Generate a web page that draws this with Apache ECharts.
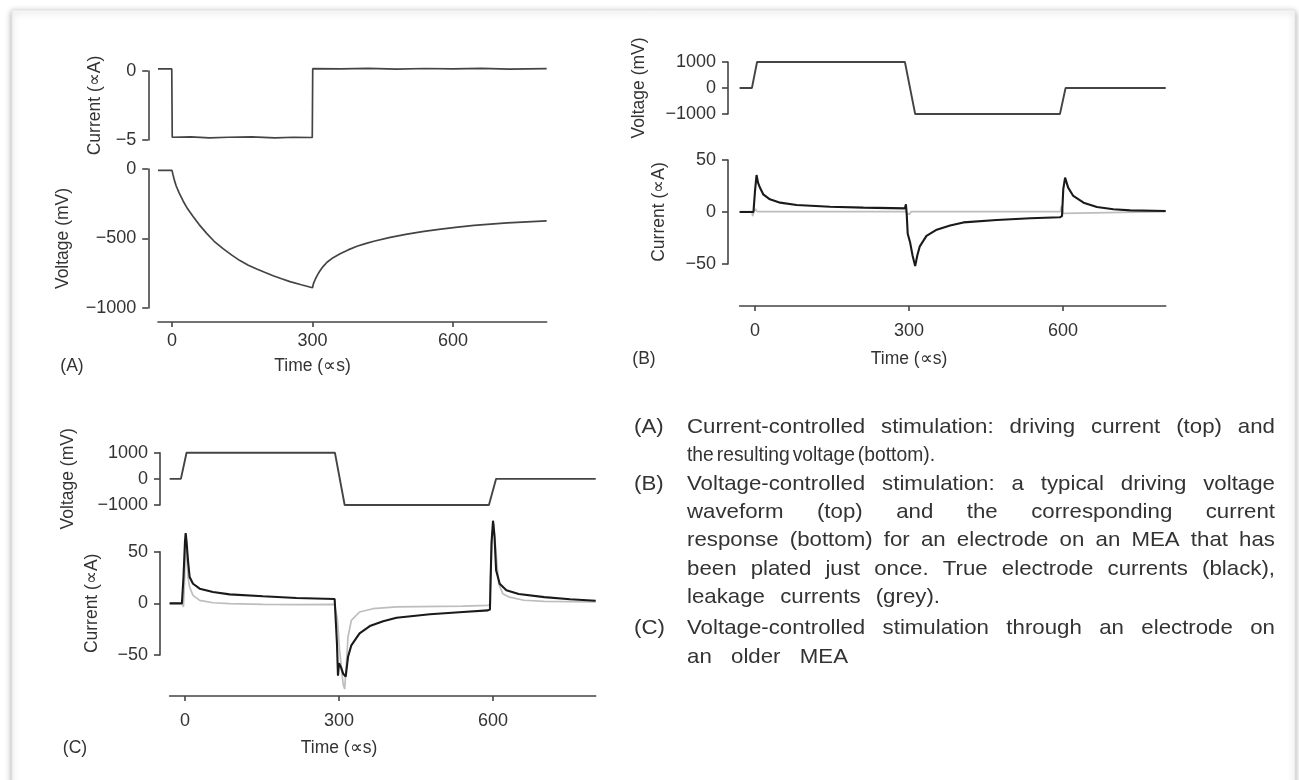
<!DOCTYPE html>
<html><head><meta charset="utf-8">
<script src="https://cdn.jsdelivr.net/npm/echarts@6/dist/echarts.min.js"></script>
<style>html,body{margin:0;padding:0;background:#fff}#c{width:1299px;height:780px}</style>
</head><body><div id="c"></div><script>
// ---------------- data ----------------
const xTicks = [0, 300, 600];
const aCurrentTicks = [-5, 0];
const aVoltageTicks = [-1000, -500, 0];
const bcVoltageTicks = [-1000, 0, 1000];
const bcCurrentTicks = [-50, 0, 50];

// Panel A: driving current (uA) and resulting voltage (mV)
const aCurrent = [[-30,0.15],[-0.5,0.15],[0.5,-4.8],[40,-4.78],[80,-4.84],[120,-4.8],[170,-4.78],[220,-4.84],[260,-4.8],[299.5,-4.82],
  [300.5,0.17],[360,0.15],[420,0.19],[480,0.14],[540,0.18],[600,0.15],[660,0.19],[720,0.14],[800,0.17]];
const aVoltage = [[-30,-10],[0,-10],[2,-40],[5,-80],[9,-122],[15,-170],[24,-232],[33,-285],[45,-341],[58,-400],[74,-463],
  [90,-520],[109,-573],[127,-618],[145,-659],[163,-692],[181,-720],[199,-745],[216,-768],[234,-790],[252,-810],[276,-833],[300,-854],
  [302,-825],[306,-793],[311,-760],[316,-732],[323,-700],[331,-671],[344,-638],[359,-610],[376,-582],[395,-556],[413,-537],[431,-520],
  [466,-492],[502,-468],[538,-449],[574,-432],[610,-418],[645,-405],[680,-396],[716,-388],[758,-380],[800,-373]];

// Panel B: driving voltage (mV), electrode current (black) and leakage (grey), uA
const bVoltage = [[-30,0],[-6,0],[4,1000],[292,1000],[312,-1000],[594,-1000],[605,0],[800,0]];
const bTrue = [[-30,0],[-3,0],[0,20],[3,35.6],[6,28],[10,23],[16,17],[29,12.2],[49,9],[81,6.7],[146,5.1],[211,4.2],[292,3.5],
  [294,7.4],[295.5,-2],[297.5,-21],[302,-29],[307,-42],[312,-52],[316,-42],[321,-33],[334,-23],[354,-17],[380,-13],[406,-10],
  [471,-7.7],[536,-6],[594,-5],[598,-4],[600.5,22],[604,33],[610,23.4],[620,15.4],[640,9],[666,4.8],[698,2.6],[731,1.6],[800,1]];
const bLeak = [[-30,0.3],[-6,0.3],[-4.5,-4],[-2,0.5],[1,3],[4,0.3],[294,0.3],[297,-2],[301,-2],[304,0.3],[316,0.5],[318,2],[320,0.3],
  [595,0.3],[597,6],[600.5,-1.3],[603,0.5],[800,0.3]];

// Panel C: older MEA
const cVoltage = [[-30,0],[-8,0],[3,1000],[292,1000],[311,-1000],[592,-1000],[606,0],[800,0]];
const cTrue = [[-30,0],[-6,0],[-3,25],[0,60],[1.3,68],[3,60],[5.8,41.6],[9,25.5],[15.6,19],[28.6,14.2],[54.5,11],[87,8.7],[152,6.8],
  [217,5.2],[291.5,4.2],[295,3],[296,-39],[298,-70],[300,-58],[304,-62],[308,-68],[313,-71],[317.5,-52],[324,-40.6],[340,-29],
  [360,-22],[386,-17.4],[412,-14],[477,-10.6],[541.5,-8.4],[590,-6.8],[594,-6],[597,58],[600,80],[603,64],[606,32],[613,19],
  [626,12.6],[650,9],[700,6],[750,4],[800,2.5]];
const cLeak = [[-30,0],[-6,0],[-3,-3.5],[-1,20],[1,58],[2,64],[4,40],[6,25],[9,15.8],[15.6,7.7],[28.6,2.9],[54.5,0.6],[87,-0.3],
  [152,-1],[217,-1.3],[291.5,-1],[295,-1],[297,-16],[301,-45],[308,-78],[311,-83],[314,-62],[317.5,-32.6],[324,-16.5],[340,-8.4],
  [366,-5.2],[412,-3.5],[541,-2.6],[590,-1.9],[594,-1.5],[595,25],[599,70],[601.5,77],[606,48],[611,19],[619,9.4],[632,6],
  [660,3],[700,2],[800,1.5]];

const captionLines = [
  {label:'(A)', text:'Current-controlled stimulation: driving current (top) and', w:588},
  {text:'the resulting voltage (bottom).', w:248},
  {label:'(B)', text:'Voltage-controlled stimulation: a typical driving voltage', w:588},
  {text:'waveform (top) and the corresponding current', w:588},
  {text:'response (bottom) for an electrode on an MEA that has', w:588},
  {text:'been plated just once. True electrode currents (black),', w:588},
  {text:'leakage currents (grey).', w:253},
  {label:'(C)', text:'Voltage-controlled stimulation through an electrode on', w:588},
  {text:'an older MEA', w:161}
];
const captionY = [427, 455.5, 484, 512, 540.5, 569, 597.5, 628, 657];

// ---------------- style ----------------
const FONT = '"Liberation Sans", Arial, Helvetica, sans-serif';
const TXT = '#333333';
const AX = '#444444';
const minus = v => String(v).replace('-', '\u2212');

const grids = [
  {left:157.95, top:71, width:388.7, height:69},
  {left:157.95, top:169, width:388.7, height:139},
  {left:739.6, top:62, width:426.1, height:52},
  {left:739.6, top:160, width:426.1, height:104},
  {left:169.6, top:452.7, width:426.1, height:52.3},
  {left:169.6, top:551.7, width:426.1, height:103.3}
];

function xAx(gi, show, offset, margin) {
  return {type:'value', gridIndex:gi, min:-30, max:800, show:show, offset:offset,
    axisLine:{show:true, onZero:false, lineStyle:{color:AX, width:1.6}},
    axisTick:{show:true, length:5, customValues:xTicks, lineStyle:{color:AX, width:1.6}},
    axisLabel:{customValues:xTicks, margin:margin, fontSize:18, color:TXT, fontFamily:FONT},
    splitLine:{show:false}};
}
function yAx(gi, min, max, ticks, offset, name, nameGap) {
  return {type:'value', gridIndex:gi, min:min, max:max, offset:offset, name:name,
    nameLocation:'middle', nameGap:nameGap, nameRotate:90,
    nameTextStyle:{fontSize:17.5, color:TXT, fontFamily:FONT},
    axisLine:{show:true, onZero:false, lineStyle:{color:AX, width:1.6}},
    axisTick:{show:true, length:6, customValues:ticks, lineStyle:{color:AX, width:1.6}},
    axisLabel:{customValues:ticks, margin:12, fontSize:18, color:TXT, fontFamily:FONT, formatter:minus},
    splitLine:{show:false}};
}
function line(gi, data, color, width) {
  return {type:'line', xAxisIndex:gi, yAxisIndex:gi, data:data, showSymbol:false, symbol:'none', clip:false,
    lineStyle:{color:color, width:width}, animation:false, silent:true};
}

const chart = echarts.init(document.getElementById('c'), null, {renderer:'canvas'});
const option = {
  backgroundColor:'#ffffff',
  animation:false,
  grid: grids,
  xAxis: [
    xAx(0,false,0,10), xAx(1,true,14,10),
    xAx(2,false,0,16), xAx(3,true,42,16),
    xAx(4,false,0,16), xAx(5,true,41,16)
  ],
  yAxis: [
    yAx(0,-5,0,aCurrentTicks,9.7,'Current (\u221DA)',44),
    yAx(1,-1000,0,aVoltageTicks,9.7,'Voltage (mV)',76),
    yAx(2,-1000,1000,bcVoltageTicks,11.6,'Voltage (mV)',80),
    yAx(3,-50,50,bcCurrentTicks,11.6,'Current (\u221DA)',60),
    yAx(4,-1000,1000,bcVoltageTicks,9.6,'Voltage (mV)',83),
    yAx(5,-50,50,bcCurrentTicks,9.6,'Current (\u221DA)',59)
  ],
  series: [
    line(0, aCurrent, '#444444', 1.7),
    line(1, aVoltage, '#444444', 1.7),
    line(2, bVoltage, '#444444', 1.9),
    line(3, bLeak, '#bdbdbd', 1.7),
    line(3, bTrue, '#1a1a1a', 2.1),
    line(4, cVoltage, '#444444', 1.9),
    line(5, cLeak, '#bdbdbd', 1.7),
    line(5, cTrue, '#1a1a1a', 2.1)
  ]
};
chart.setOption(option);

// ---------------- graphics (frame, labels, caption) ----------------
const g = [];
g.push({type:'rect', z:-100, shape:{x:12, y:10, width:1283, height:800},
  style:{fill:'#ffffff', stroke:'#e6e6e6', lineWidth:1, shadowColor:'rgba(0,0,0,0.35)', shadowBlur:6, shadowOffsetY:2}});

function txt(x, y, s, size, align) {
  return {type:'text', x:x, y:y, z:10, style:{text:s, fontSize:size, fontFamily:FONT, fill:TXT,
    align:align || 'center', verticalAlign:'middle', textAlign:align || 'center', textVerticalAlign:'middle'}};
}
const timeX = [1, 3, 5].map(i => chart.convertToPixel({xAxisIndex:i}, 300));
g.push(txt(timeX[0], 366, 'Time (\u221Ds)', 17.5));
g.push(txt(timeX[1], 359, 'Time (\u221Ds)', 17.5));
g.push(txt(timeX[2], 748, 'Time (\u221Ds)', 17.5));
g.push(txt(72, 366, '(A)', 17.5));
g.push(txt(644, 359, '(B)', 17.5));
g.push(txt(75, 748, '(C)', 17.5));

// caption: justified word layout
const CAP_SIZE = 21, CAP_SX = 1.06, BODY_X = 687, LABEL_X = 634;
const ctx = document.createElement('canvas').getContext('2d');
ctx.font = CAP_SIZE + 'px ' + FONT;
captionLines.forEach((ln, i) => {
  const y = captionY[i];
  if (ln.label) {
    g.push({type:'text', x:LABEL_X, y:y, z:10, scaleX:CAP_SX, style:{text:ln.label, fontSize:CAP_SIZE, fontFamily:FONT,
      fill:TXT, align:'left', verticalAlign:'middle', textAlign:'left', textVerticalAlign:'middle'}});
  }
  const words = ln.text.split(' ');
  const ws = words.map(w => ctx.measureText(w).width);
  const sum = ws.reduce((a, b) => a + b, 0);
  const n = words.length;
  const minGap = 3;
  const sx = Math.min(CAP_SX, (ln.w - (n - 1) * minGap) / sum);
  const gap = n > 1 ? (ln.w - sum * sx) / (n - 1) : 0;
  let x = BODY_X;
  words.forEach((w, k) => {
    g.push({type:'text', x:x, y:y, z:10, scaleX:sx, style:{text:w, fontSize:CAP_SIZE, fontFamily:FONT,
      fill:TXT, align:'left', verticalAlign:'middle', textAlign:'left', textVerticalAlign:'middle'}});
    x += ws[k] * sx + gap;
  });
});
chart.setOption({graphic: g});
</script></body></html>
